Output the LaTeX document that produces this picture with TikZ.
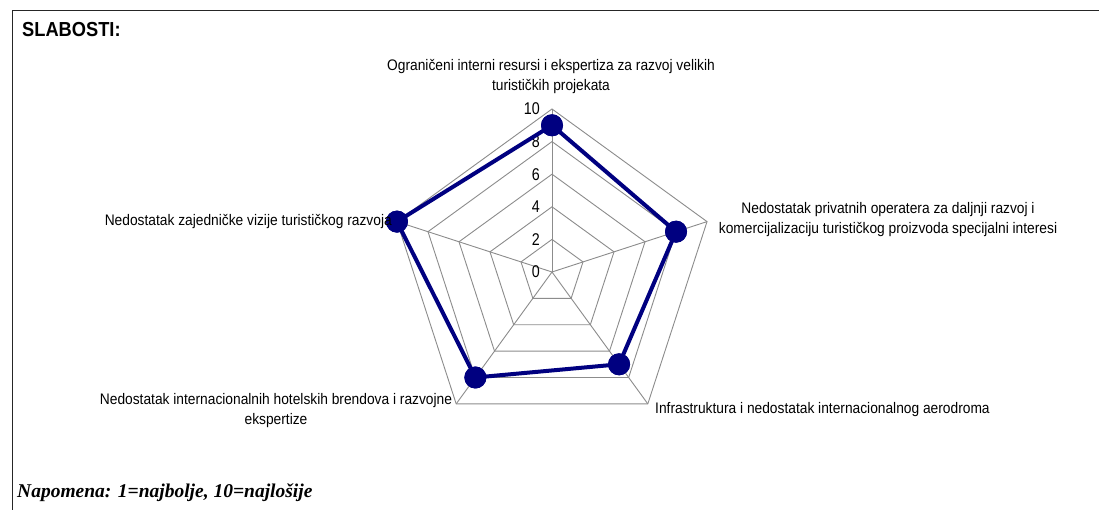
\documentclass[tikz,border=0pt]{standalone}
\usepackage{fontspec}
\setmainfont{Liberation Sans}
\newfontfamily\notefont{Liberation Serif}
\newfontfamily\narrowfont[FakeStretch=0.9]{Liberation Sans}
\newfontfamily\ticksfont[FakeStretch=0.84]{Liberation Sans}
\usetikzlibrary{calc}
\definecolor{navy}{HTML}{000080}
\definecolor{gridgray}{HTML}{8C8C8C}
\begin{document}
\begin{tikzpicture}[x=1pt,y=1pt,
  gridline/.style={draw=gridgray, line width=0.9pt, line join=miter},
  series/.style={draw=navy, line width=4pt, line join=round},
  marker/.style={circle, fill=navy, minimum size=22pt, inner sep=0pt},
  catlabel/.style={font=\narrowfont\fontsize{15.3}{20}\selectfont, align=center, inner sep=0pt},
  ticklabel/.style={font=\ticksfont\fontsize{17}{18}\selectfont, anchor=east, inner sep=0pt},
  frameline/.style={draw=black!85, line width=1.5pt}]
\useasboundingbox (0,0) rectangle (1099,510);
\fill[white] (0,0) rectangle (1099,510);
% open frame: top and left edges only
\draw[frameline] (1099,499.5) -- (12.5,499.5) -- (12.5,0);

\node[anchor=west, inner sep=0pt, font=\narrowfont\fontsize{20.3}{22}\selectfont\bfseries] (title) at (22,480) {SLABOSTI:};

% radar grid
\coordinate (C) at (552,238);
\def\unit{16.3}
\foreach \k in {2,4,6,8,10}{
  \draw[gridline] ($(C)+(90:\k*\unit)$) -- ($(C)+(18:\k*\unit)$) -- ($(C)+(-54:\k*\unit)$)
     -- ($(C)+(-126:\k*\unit)$) -- ($(C)+(162:\k*\unit)$) -- cycle;
}
\foreach \a in {90,18,-54,-126,162}{
  \draw[gridline] (C) -- ($(C)+(\a:10*\unit)$);
}
\foreach \k in {0,2,4,6,8,10}{
  \node[ticklabel] (tick\k) at ($(C)+(-12,\k*\unit)$) {\k};
}

% data series
\foreach \i/\a/\v in {0/90/9,1/18/8,2/-54/7,3/-126/8,4/162/10}{
  \node[marker] (m\i) at ($(C)+(\a:\v*\unit)$) {};
}
\draw[series] (m0.center) -- (m1.center) -- (m2.center) -- (m3.center) -- (m4.center) -- cycle;
\foreach \i in {0,...,4}{ \fill[navy] (m\i) circle (11); }

% category labels
\node[catlabel] (cat0) at (551,433) {Ograničeni interni resursi i ekspertiza za razvoj velikih\\turističkih projekata};
\node[catlabel] (cat1) at (888,290) {Nedostatak privatnih operatera za daljnji razvoj i\\komercijalizaciju turističkog proizvoda specijalni interesi};
\node[catlabel, anchor=west] (cat2) at (655,100) {Infrastruktura i nedostatak internacionalnog aerodroma};
\node[catlabel] (cat3) at (276,99.5) {Nedostatak internacionalnih hotelskih brendova i razvojne\\ekspertize};
\node[catlabel, anchor=east] (cat4) at (392,288) {Nedostatak zajedničke vizije turističkog razvoja};

\node[anchor=west, inner sep=0pt, font=\notefont\fontsize{19.5}{22}\selectfont\bfseries\itshape] (note) at (17,17) {Napomena: 1=najbolje, 10=najlošije};
\end{tikzpicture}
\end{document}
